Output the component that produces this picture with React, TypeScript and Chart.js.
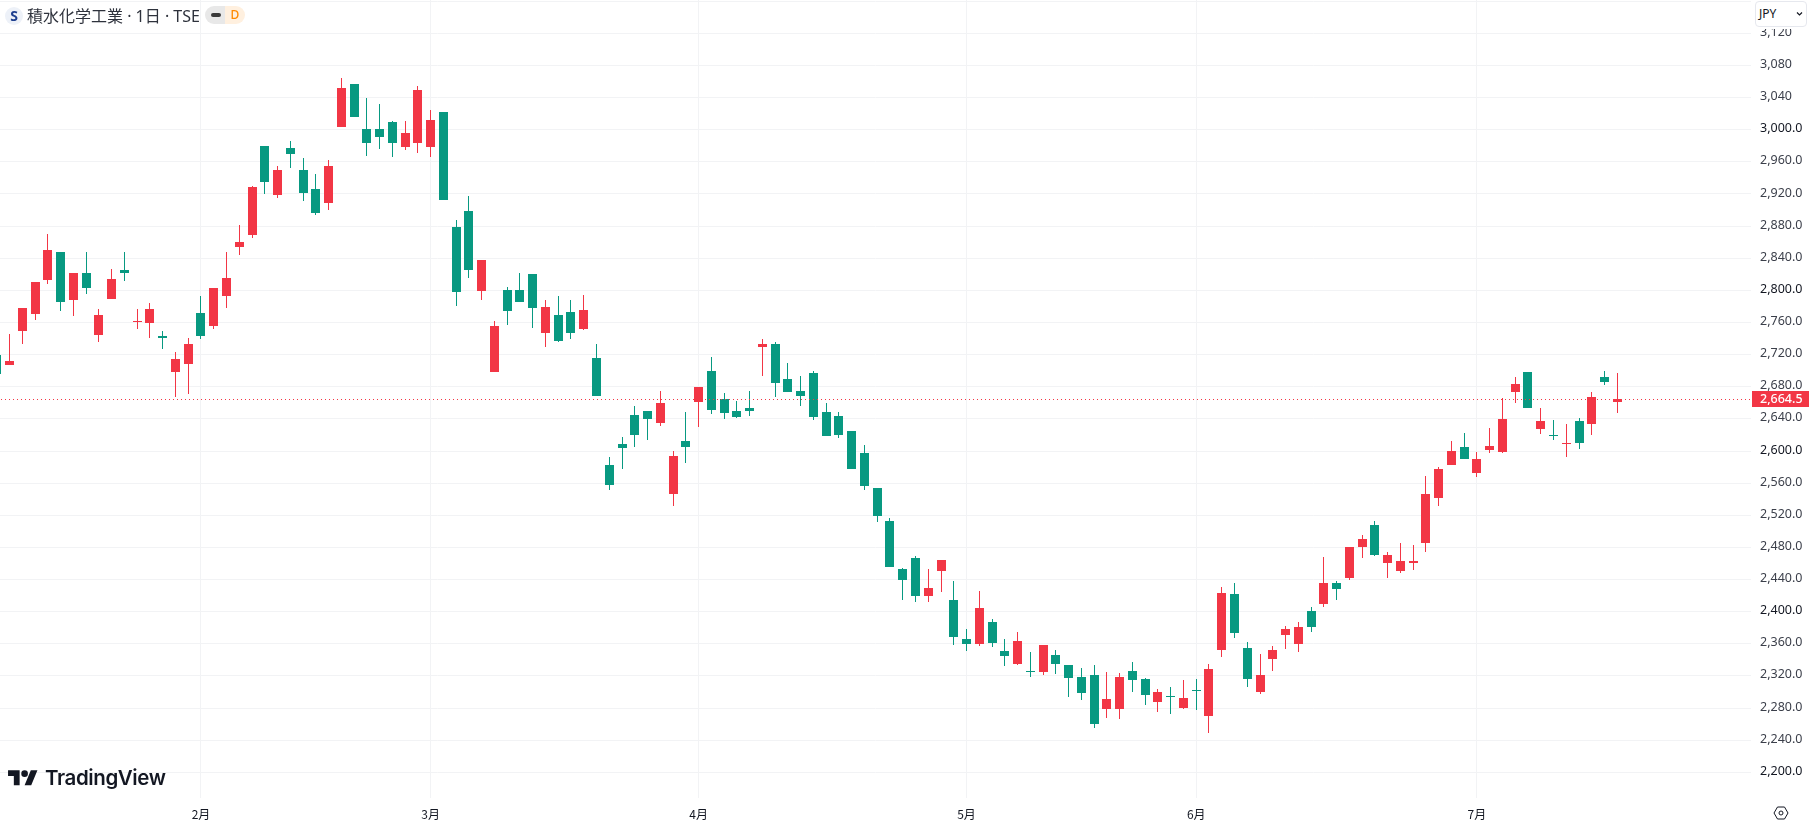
import React, { useEffect, useRef } from "react";
import { Chart, registerables } from "chart.js";

Chart.register(...registerables);

const highs = [2720,2746,2778,2810.5,2870,2847.5,2821.5,2847.5,2777,2826.5,2847.5,2777,2784.5,2749.5,2723.5,2741,2793,2803,2847.5,2881,2929.5,2979.5,2954.5,2986.5,2964.5,2944.5,2962,3065,3056.5,3040,3032.5,3010.5,3010.5,3055,3025,3021.5,2887.5,2917,2837.5,2762,2804,2821.5,2820.5,2788,2793,2788,2794,2733.5,2593,2618,2656.5,2650,2675,2600.5,2649,2680,2717,2672.5,2662.5,2675,2739.5,2736,2710,2693.5,2700,2660,2649,2625.5,2608,2554.5,2517,2454,2469,2452.5,2464,2438,2378,2425.5,2390.5,2365.5,2374.5,2349.5,2358.5,2352,2333.5,2329.5,2333.5,2324.5,2323.5,2337,2317.5,2303.5,2306,2315,2316,2334.5,2430.5,2435.5,2362,2347,2357,2382,2387,2405.5,2467.5,2438,2480,2495,2512.5,2474,2485,2482.5,2569.5,2579.5,2613,2623,2599,2629,2666.5,2692.5,2698.5,2654,2639,2634,2641.5,2673.5,2700,2697.5];
const lows = [2696,2707,2733.5,2763,2808,2774.5,2768,2795.5,2736,2789,2811.5,2752,2741,2727,2667.5,2671.5,2739.5,2752,2778,2844,2865,2919.5,2914.5,2952,2911,2893.5,2900,3003,3015.5,2967,2975.5,2965.5,2974.5,2970.5,2965.5,2912,2780.5,2815.5,2788,2698.5,2757,2785.5,2753,2729.5,2736,2739.5,2750.5,2669,2552,2578,2605.5,2614,2631.5,2531,2584.5,2630.5,2646.5,2640,2641.5,2644,2693.5,2667.5,2674,2656.5,2639,2619,2616.5,2577,2552,2511,2455,2414,2411.5,2411.5,2424,2358.5,2351,2357,2356,2332,2333.5,2318.5,2321,2322.5,2293.5,2290,2255,2267.5,2266.5,2300,2283.5,2275,2272.5,2279,2277.5,2249,2343.5,2367,2306,2297.5,2326,2353.5,2349.5,2374.5,2405.5,2414,2439,2466.5,2469,2442.5,2447.5,2451.5,2474,2531,2582,2589.5,2568,2598,2598,2660,2654,2621.5,2614,2593,2603,2620.5,2682.5,2647.5];
const opens = [2719.5,2707,2749.5,2770.5,2813,2847.5,2788,2821.5,2744.5,2789,2825.5,2760.5,2759.5,2743.5,2698.5,2708.5,2772,2755.5,2793,2854,2868.5,2979.5,2918.5,2977,2949.5,2926,2908.5,3003,3056.5,3000.5,3000.5,3009,2978,2984,2978,3021.5,2878.5,2898.5,2799,2698.5,2800.5,2800.5,2820.5,2747,2769.5,2773,2752,2716,2583,2609,2645,2650,2635,2547,2613,2661.5,2700,2665,2650,2654,2729.5,2733.5,2690,2675,2697.5,2649,2644,2625.5,2598,2554.5,2512.5,2452.5,2466.5,2419,2450,2414,2365.5,2359.5,2387,2351,2334.5,2326,2324.5,2346,2333.5,2318.5,2321,2279,2279,2326,2316,2287.5,2295,2280,2302.5,2270,2352,2421.5,2354.5,2300,2341,2370.5,2359.5,2400.5,2409,2435.5,2442.5,2480,2508.5,2460,2450,2461,2485,2541,2582,2605.5,2572,2601.5,2599,2673.5,2698.5,2628,2620.5,2609,2637.5,2634,2692.5,2661];
const closes = [2696,2712,2778,2810.5,2850,2785.5,2821.5,2803,2769.5,2814,2821.5,2762,2777,2741,2714.5,2733.5,2743.5,2803,2815.5,2860,2928.5,2934.5,2949.5,2969.5,2921,2896,2954.5,3052.5,3015.5,2984,2991.5,2983,2995.5,3049,3011.5,2912,2798,2825.5,2837.5,2755.5,2774.5,2785.5,2778,2779.5,2737,2747,2775.5,2669,2558,2604,2620.5,2640,2660,2594,2605.5,2680,2651.5,2647.5,2642.5,2650,2733.5,2685,2674,2669,2642.5,2619,2620.5,2577,2557,2519.5,2455,2439,2419,2429,2464,2368,2359.5,2404,2361,2344.5,2363,2324.5,2358.5,2334.5,2317.5,2298.5,2260,2291,2318.5,2315,2296,2300,2293.5,2292.5,2301,2328.5,2423,2373,2316,2321,2352,2378,2380.5,2380.5,2435.5,2428,2480,2491,2470,2470,2462.5,2462.5,2547,2578,2600.5,2590.5,2590.5,2606.5,2640,2683.5,2654,2637.5,2619,2610.5,2610.5,2667.5,2686,2664.5];

const monthIndices = [16, 34, 55, 76, 94, 116];
const monthLabels = ["2月", "3月", "4月", "5月", "6月", "7月"];

const priceTicks = [3160,3120,3080,3040,3000,2960,2920,2880,2840,2800,2760,2720,2680,2640,2600,2560,2520,2480,2440,2400,2360,2320,2280,2240,2200];
const boldTicks = [3000, 2800, 2600, 2400, 2200];
const wholeTicks = [3120, 3080, 3040];

const lastPrice = 2664.5;
const lastPriceLabel = "2,664.5";
const titleText = "積水化学工業 · 1日 · TSE";
const currencyText = "JPY";
const logoText = "TradingView";

const RED = "#F23645";
const GREEN = "#089981";
const GRID = "#F2F3F5";
const TEXT = "#131722";
const SOFT = "#3b3f4a";
const AXIS_FONT = '"Noto Sans", "Noto Sans CJK JP", sans-serif';

const candleColors = closes.map((c, i) => (c >= opens[i] ? RED : GREEN));

const snapMarks = {
  id: "snapMarks",
  afterDatasetsUpdate(chart: any) {
    chart.data.datasets.forEach((ds: any, idx: number) => {
      const meta = chart.getDatasetMeta(idx);
      if (ds.type === "bar") {
        meta.data.forEach((el: any) => {
          el.x = Math.floor(el.x) + 0.5;
          el.y = Math.round(el.y);
          el.base = Math.round(el.base);
          if (el.y === el.base) el.base = el.y + 1;
        });
      } else {
        meta.data.forEach((el: any) => {
          el.x = Math.round(el.x);
          el.y = Math.floor(el.y) + 0.5;
        });
      }
    });
  },
};

const priceTag = {
  id: "priceTag",
  afterDraw(chart: any) {
    const { ctx, scales } = chart;
    const y = Math.round(scales.y.getPixelForValue(lastPrice));
    ctx.save();
    ctx.fillStyle = RED;
    ctx.fillRect(1752, y - 8, 57, 16);
    ctx.fillStyle = "#ffffff";
    ctx.font = "500 12.5px " + AXIS_FONT;
    ctx.textBaseline = "middle";
    ctx.textAlign = "left";
    ctx.fillText(lastPriceLabel, 1760, y);
    ctx.restore();
  },
};

export default function App() {
  const ref = useRef<HTMLCanvasElement | null>(null);

  useEffect(() => {
    document.body.style.margin = "0";
    const chart = new Chart(ref.current as HTMLCanvasElement, {
      type: "bar",
      data: {
        datasets: [
          {
            type: "line",
            data: [
              { x: 0, y: lastPrice },
              { x: 138, y: lastPrice },
            ],
            borderColor: RED,
            borderWidth: 1,
            borderDash: [1, 3],
            pointRadius: 0,
            order: 0,
          },
          {
            type: "bar",
            data: opens.map((o, i) => ({ x: i, y: [o, closes[i]] })),
            backgroundColor: candleColors,
            barThickness: 9,
            grouped: false,
            borderWidth: 0,
            inflateAmount: 0,
            order: 1,
          },
          {
            type: "bar",
            data: highs.map((h, i) => ({ x: i, y: [lows[i], h] })),
            backgroundColor: candleColors,
            barThickness: 1,
            grouped: false,
            borderWidth: 0,
            inflateAmount: 0,
            order: 2,
          },
        ] as any,
      },
      options: {
        animation: false,
        responsive: false,
        devicePixelRatio: 1,
        layout: { padding: 0 },
        plugins: { legend: { display: false }, tooltip: { enabled: false } },
        scales: {
          x: {
            type: "linear",
            min: 0.25,
            max: 137.48,
            offset: false,
            grid: { color: GRID, offset: false, drawTicks: false },
            border: { display: false },
            afterBuildTicks(scale: any) {
              scale.ticks = monthIndices.map((value) => ({ value }));
            },
            afterFit(scale: any) {
              scale.height = 28;
              scale.paddingLeft = 0;
              scale.paddingRight = 0;
            },
            ticks: {
              maxRotation: 0,
              autoSkip: false,
              padding: 9,
              color: TEXT,
              font: { family: '"Noto Sans CJK JP", sans-serif', size: 12 },
              callback: (v: any) => monthLabels[monthIndices.indexOf(Number(v))] ?? "",
            },
          },
          y: {
            position: "right",
            min: 2168,
            max: 3161.5,
            grid: { color: GRID, drawTicks: false },
            border: { display: false },
            afterBuildTicks(scale: any) {
              scale.ticks = priceTicks.map((value) => ({ value }));
            },
            afterFit(scale: any) {
              scale.width = 58;
              scale.paddingTop = 0;
              scale.paddingBottom = 0;
            },
            ticks: {
              autoSkip: false,
              padding: 9,
              labelOffset: -1,
              align: "center",
              crossAlign: "near",
              font: { family: AXIS_FONT, size: 12.5 },
              color: (c: any) => (boldTicks.includes(c.tick.value) ? TEXT : SOFT),
              callback: (v: any) => {
                const n = Number(v);
                if (n === priceTicks[0]) return "";
                const s = n.toLocaleString("en-US");
                return wholeTicks.includes(n) ? s : s + ".0";
              },
            },
          },
        },
      } as any,
      plugins: [snapMarks, priceTag],
    });
    return () => chart.destroy();
  }, []);

  return (
    <div style={{ position: "absolute", left: 0, top: 0, width: 1809, height: 826, overflow: "hidden", background: "#fff" }}>
      <canvas ref={ref} width={1809} height={826} style={{ display: "block", width: 1809, height: 826 }} />

      {/* symbol header */}
      <div style={{ position: "absolute", left: 5, top: 7, width: 18, height: 18, borderRadius: 9, background: "#EDF1F8", color: "#1E3F8F", font: '700 14px/18px "Noto Sans", sans-serif', textAlign: "center" }}>S</div>
      <div style={{ position: "absolute", left: 27, top: 4, height: 24, color: "#2E323C", font: '400 16px/24px "Noto Sans", "Noto Sans CJK JP", sans-serif', whiteSpace: "nowrap" }}>{titleText}</div>
      <div style={{ position: "absolute", left: 205, top: 6, width: 20, height: 18, background: "#E8E8E8", borderRadius: "9px 0 0 9px" }}>
        <div style={{ position: "absolute", left: 6, top: 7, width: 10, height: 4, borderRadius: 2, background: "#3A3A3A" }} />
      </div>
      <div style={{ position: "absolute", left: 225, top: 6, width: 20, height: 18, background: "#FFF0DF", borderRadius: "0 9px 9px 0", color: "#FF8A00", font: '500 12px/18px "Noto Sans", sans-serif', textAlign: "center" }}>D</div>

      {/* currency selector, masks the top of the axis */}
      <div style={{ position: "absolute", left: 1752, top: 0, width: 57, height: 29, background: "#fff" }} />
      <div style={{ position: "absolute", left: 1755, top: 1, width: 47, height: 24, border: "1px solid #E6E8EE", borderRadius: 4, background: "#fff", color: TEXT, font: '400 12px/24px "Noto Sans", sans-serif', paddingLeft: 3, boxSizing: "content-box" }}>
        {currencyText}
      </div>
      <svg style={{ position: "absolute", left: 1796, top: 11, width: 7, height: 6 }} viewBox="0 0 7 6">
        <path d="M1 1.5 L3.5 4 L6 1.5" fill="none" stroke={TEXT} strokeWidth="1.2" />
      </svg>

      {/* logo */}
      <svg style={{ position: "absolute", left: 8, top: 766.7, width: 29.9, height: 23.2 }} viewBox="0 0 36 28">
        <path fill={TEXT} d="M14 22H7V11H0V4h14v18zM28 22h-8l7.5-18h8L28 22z" />
        <circle fill={TEXT} cx="20" cy="8" r="4" />
      </svg>
      <div style={{ position: "absolute", left: 45, top: 764, height: 28, color: TEXT, font: "600 20.5px/28px Inter, sans-serif", letterSpacing: "-0.4px", whiteSpace: "nowrap" }}>{logoText}</div>

      {/* settings */}
      <svg style={{ position: "absolute", left: 1773, top: 805, width: 16, height: 16 }} viewBox="0 0 16 16">
        <path d="M4.5 2 H11.5 L15 8 L11.5 14 H4.5 L1 8 Z" fill="none" stroke={TEXT} strokeWidth="1" />
        <circle cx="8" cy="8" r="2" fill="none" stroke={TEXT} strokeWidth="1" />
      </svg>
    </div>
  );
}
